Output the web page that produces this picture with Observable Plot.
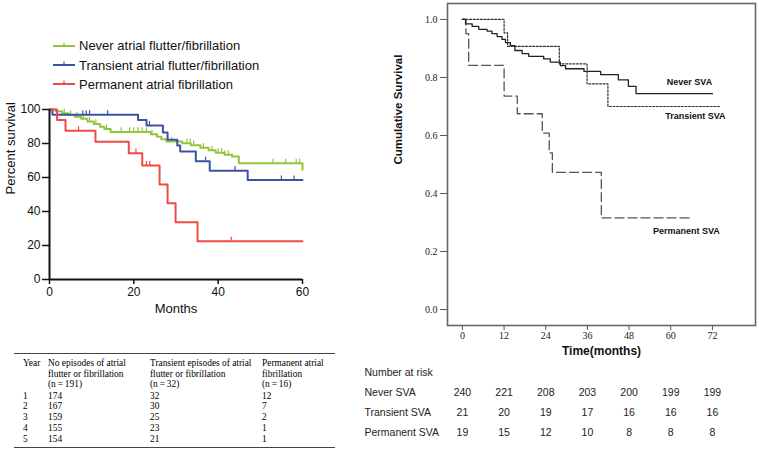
<!DOCTYPE html>
<html><head><meta charset="utf-8">
<script src="https://cdn.jsdelivr.net/npm/d3@7"></script>
<script src="https://cdn.jsdelivr.net/npm/@observablehq/plot@0.6"></script>
<style>
body{margin:0;background:#fff;}
#root{position:relative;width:759px;height:450px;overflow:hidden;background:#fff;font-family:"Liberation Sans",Arial,sans-serif;}
.abs{position:absolute;}
.leg{position:absolute;height:20px;white-space:nowrap;font-size:13px;color:#111;display:flex;align-items:center;}
.leg svg{margin-right:4px;}
table.af{position:absolute;left:14px;top:353px;width:321px;border-collapse:collapse;table-layout:fixed;font-family:"Liberation Serif","Times New Roman",serif;font-size:9.4px;line-height:10.5px;color:#000;border-top:1px solid #444;border-bottom:1.5px solid #444;}
table.af td{padding:0;vertical-align:top;white-space:nowrap;}
table.af tr.hd td{padding-top:4px;padding-bottom:1px;}
table.af tr.dr td{height:10.8px;line-height:10.8px;}
table.af tr.last td{padding-bottom:2.5px;}
</style></head><body><div id="root"></div>
<script>
// ---------- Left panel data (Kaplan–Meier, percent survival) ----------
const seriesNames = ["Never atrial flutter/fibrillation", "Transient atrial flutter/fibrillation", "Permanent atrial fibrillation"];
const seriesColors = ["#94c43c", "#3a54a4", "#ef4a46"];

const neverTimes = [0, 1.5, 3, 4.5, 6, 7.5, 9, 10.5, 12, 13, 14.5, 24, 25.5, 26.5, 27.7, 31.5, 33.5, 35.8, 37.7, 39.4, 41.5, 43.3, 44.9, 60];
const neverSurv  = [100, 98.9, 97.8, 96.8, 95.7, 94.6, 93, 91.5, 89.8, 88.5, 86.8, 85.4, 84, 82.5, 81.2, 80.2, 79, 77.5, 76, 74.5, 73.4, 72.4, 68.4, 64.6];
const neverCensor = [3.5, 5, 6.5, 8, 9.5, 11, 13.5, 17, 19, 20, 21, 22, 23, 24.3, 29, 32.6, 33.4, 34.2, 36.5, 38.5, 40, 40.8, 41.6, 42.4, 53, 56, 58.5, 59.3];

const transTimes = [0, 0.7, 21, 23, 26.9, 28, 30.3, 31, 34.7, 38, 47, 60];
const transSurv  = [100, 96.9, 93.8, 90.6, 86.5, 82.2, 78.8, 75.3, 69.5, 64, 58.5, 58.5];
const transCensor = [7.9, 8.7, 9.5, 13.8, 23.7, 37, 44, 55, 58];

const permTimes = [0, 1.8, 3.8, 10.9, 18.8, 22, 26.1, 28, 29.9, 35.1, 60];
const permSurv  = [100, 93.8, 87.5, 81, 74.3, 67, 55.9, 44.9, 33.7, 22.5, 22.5];
const permCensor = [6.9, 20.5, 23, 23.8, 43.1];

const leftXTicks = [0, 20, 40, 60];
const leftYTicks = [0, 20, 40, 60, 80, 100];

// ---------- Left table data ----------
const tableHeaders = ["Year", "No episodes of atrial\nflutter or fibrillation\n(n\u2009=\u2009191)", "Transient episodes of atrial\nflutter or fibrillation\n(n\u2009=\u200932)", "Permanent atrial\nfibrillation\n(n\u2009=\u200916)"];
const tableYears = [1, 2, 3, 4, 5];
const tableNoEpisodes = [174, 167, 159, 155, 154];
const tableTransient = [32, 30, 25, 23, 21];
const tablePermanent = [12, 7, 2, 1, 1];

// ---------- Right panel data (cumulative survival) ----------
const svaNeverTimes = [0, 0.9, 2.8, 4.7, 7.1, 8.5, 10, 11.4, 12.4, 13.8, 15.1, 17.2, 19.1, 23.4, 25.3, 28.2, 29.7, 35, 39.8, 44.9, 47.8, 50, 72];
const svaNeverSurv  = [1, 0.985, 0.976, 0.966, 0.96, 0.951, 0.941, 0.931, 0.92, 0.91, 0.893, 0.882, 0.873, 0.864, 0.853, 0.841, 0.83, 0.821, 0.81, 0.792, 0.769, 0.744, 0.744];
const svaTransTimes = [0, 12, 13, 27.9, 35.9, 41.9, 74];
const svaTransSurv  = [1, 0.954, 0.907, 0.847, 0.778, 0.70, 0.70];
const svaPermTimes = [0, 1, 1.8, 12, 15.8, 23, 25, 25.9, 40, 66];
const svaPermSurv  = [1, 0.951, 0.842, 0.736, 0.675, 0.608, 0.54, 0.473, 0.316, 0.316];

const curveLabels = ["Never SVA", "Transient SVA", "Permanent SVA"];
const curveLabelMonths = [65.4, 67.1, 64.5];
const curveLabelSurv = [0.783, 0.666, 0.269];

const rightXTicks = [0, 12, 24, 36, 48, 60, 72];
const rightYTicks = [0, 0.2, 0.4, 0.6, 0.8, 1.0];

// ---------- Number at risk ----------
const riskGroups = ["Never SVA", "Transient SVA", "Permanent SVA"];
const riskTimes = [0, 12, 24, 36, 48, 60, 72];
const riskNever = [240, 221, 208, 203, 200, 199, 199];
const riskTransient = [21, 20, 19, 17, 16, 16, 16];
const riskPermanent = [19, 15, 12, 10, 8, 8, 8];

// ---------- helpers ----------
const toRows = (T, S) => T.map((t, i) => ({t, s: S[i]}));
const survAt = (T, S, t) => { let s = S[0]; for (let i = 0; i < T.length; i++) if (T[i] <= t) s = S[i]; return s; };
const censorRows = (C, T, S, g) => C.map(t => ({t, s: survAt(T, S, t), g}));

const root = document.getElementById("root");

// ---------- Legend (left) ----------
seriesNames.forEach((name, i) => {
  const d = document.createElement("div");
  d.className = "leg";
  d.style.left = "53px";
  d.style.top = (35.7 + i * 19.3) + "px";
  d.innerHTML = `<svg width="22" height="20"><line x1="0" x2="22" y1="10" y2="10" stroke="${seriesColors[i]}" stroke-width="2"/><line x1="11" x2="11" y1="10" y2="6.5" stroke="${seriesColors[i]}" stroke-width="1.2"/></svg><span>${name}</span>`;
  root.appendChild(d);
});

// ---------- Left plot ----------
const leftSeries = [
  {T: neverTimes, S: neverSurv, C: neverCensor},
  {T: transTimes, S: transSurv, C: transCensor},
  {T: permTimes, S: permSurv, C: permCensor}
];
const leftMarks = [
  Plot.axisY({ticks: leftYTicks, tickSize: 7, tickPadding: 2, label: null, strokeWidth: 1.5, fontSize: 12}),
  Plot.axisX({ticks: leftXTicks, tickSize: 5, tickPadding: 3, label: null, strokeWidth: 1.5, fontSize: 12}),
];
leftSeries.forEach((s, i) => {
  leftMarks.push(Plot.line(toRows(s.T, s.S), {x: "t", y: "s", curve: "step-after", stroke: seriesColors[i], strokeWidth: 2}));
  leftMarks.push(Plot.ruleX(censorRows(s.C, s.T, s.S, i), {x: "t", y1: "s", y2: d => d.s + 2.4, stroke: seriesColors[i], strokeWidth: 1.2}));
});
leftMarks.push(
  Plot.ruleX([0], {stroke: "#111", strokeWidth: 2}),
  Plot.ruleY([0], {stroke: "#111", strokeWidth: 2}),
  Plot.text(["Percent survival"], {frameAnchor: "left", dx: -39, rotate: -90, fontSize: 13, fill: "#111"}),
  Plot.text(["Months"], {frameAnchor: "bottom", dy: 33, fontSize: 13, fill: "#111"})
);
const leftPlot = Plot.plot({
  width: 330, height: 230,
  marginLeft: 49, marginRight: 28, marginTop: 14, marginBottom: 46,
  x: {domain: [0, 60]},
  y: {domain: [0, 100]},
  style: {fontFamily: "'Liberation Sans', Arial, sans-serif", fontSize: "12px", color: "#111", background: "transparent"},
  marks: leftMarks
});
const lw = document.createElement("div");
lw.className = "abs"; lw.style.left = "0px"; lw.style.top = "95px";
lw.appendChild(leftPlot); root.appendChild(lw);

// ---------- Left table ----------
const tbl = document.createElement("table");
tbl.className = "af";
const colW = [34, 102, 112, 73];
let html = "<colgroup>" + colW.map(w => `<col style="width:${w}px">`).join("") + "</colgroup>";
html += `<tr class="hd">` + tableHeaders.map((h, i) => `<td style="${i === 0 ? 'padding-left:9px' : ''}">${h.replace(/\n/g, "<br>")}</td>`).join("") + "</tr>";
tableYears.forEach((y, i) => {
  html += `<tr class="dr${i === tableYears.length - 1 ? ' last' : ''}"><td style="padding-left:9px">${y}</td><td>${tableNoEpisodes[i]}</td><td>${tableTransient[i]}</td><td>${tablePermanent[i]}</td></tr>`;
});
tbl.innerHTML = html;
root.appendChild(tbl);

// ---------- Right plot ----------
const rightPlot = Plot.plot({
  width: 399, height: 362,
  marginLeft: 87, marginRight: 4, marginTop: 3, marginBottom: 37,
  x: {domain: [-4.3, 84.4]},
  y: {domain: [-0.055, 1.055]},
  style: {fontFamily: "'Liberation Serif', 'Times New Roman', serif", fontSize: "10px", color: "#222", background: "transparent"},
  marks: [
    Plot.axisX({ticks: rightXTicks, tickFormat: d => String(d), tickSize: 5, tickPadding: 1, label: null, stroke: "#555"}),
    Plot.axisY({ticks: rightYTicks, tickFormat: d3.format(".1f"), tickSize: 7, tickPadding: 3, label: null, stroke: "#555"}),
    Plot.frame({stroke: "#666", strokeWidth: 1.6}),
    Plot.line(toRows(svaPermTimes, svaPermSurv), {x: "t", y: "s", curve: "step-after", stroke: "#555", strokeWidth: 1.3, strokeDasharray: "9,4"}),
    Plot.line(toRows(svaTransTimes, svaTransSurv), {x: "t", y: "s", curve: "step-after", stroke: "#333", strokeWidth: 1.2, strokeDasharray: "2,1.6"}),
    Plot.line(toRows(svaNeverTimes, svaNeverSurv), {x: "t", y: "s", curve: "step-after", stroke: "#222", strokeWidth: 1.3}),
    Plot.text(curveLabels, {x: (d, i) => curveLabelMonths[i], y: (d, i) => curveLabelSurv[i], fontFamily: "'Liberation Sans', Arial, sans-serif", fontWeight: "bold", fontSize: 9, fill: "#111"}),
    Plot.text(["Cumulative Survival"], {frameAnchor: "left", dx: -49, rotate: -90, fontFamily: "'Liberation Sans', Arial, sans-serif", fontWeight: "bold", fontSize: 11.5, fill: "#111"}),
    Plot.text(["Time(months)"], {frameAnchor: "bottom", dy: 29, fontFamily: "'Liberation Sans', Arial, sans-serif", fontWeight: "bold", fontSize: 12, fill: "#111"})
  ]
});
const rw = document.createElement("div");
rw.className = "abs"; rw.style.left = "360px"; rw.style.top = "0px";
rw.appendChild(rightPlot); root.appendChild(rw);

// ---------- Number at risk ----------
const riskValues = [riskNever, riskTransient, riskPermanent];
const riskRows = [];
riskGroups.forEach((g, gi) => riskTimes.forEach((t, ti) => riskRows.push({g, t, n: riskValues[gi][ti]})));
const riskPlot = Plot.plot({
  width: 399, height: 105, margin: 0,
  axis: null,
  x: {domain: [-4.3, 84.4], range: [87, 395]},
  y: {type: "point", domain: riskGroups, range: [47, 87], padding: 0},
  style: {fontFamily: "'Liberation Sans', Arial, sans-serif", fontSize: "10.5px", color: "#222", background: "transparent"},
  marks: [
    Plot.text(["Number at risk"], {frameAnchor: "top-left", dx: 4, dy: 23, textAnchor: "start", fill: "#222"}),
    Plot.text(riskGroups, {y: d => d, frameAnchor: "left", dx: 4, textAnchor: "start", fill: "#222"}),
    Plot.text(riskRows, {x: "t", y: "g", text: d => String(d.n), fill: "#222"})
  ]
});
const kw = document.createElement("div");
kw.className = "abs"; kw.style.left = "360px"; kw.style.top = "345px";
kw.appendChild(riskPlot); root.appendChild(kw);
</script></body></html>
